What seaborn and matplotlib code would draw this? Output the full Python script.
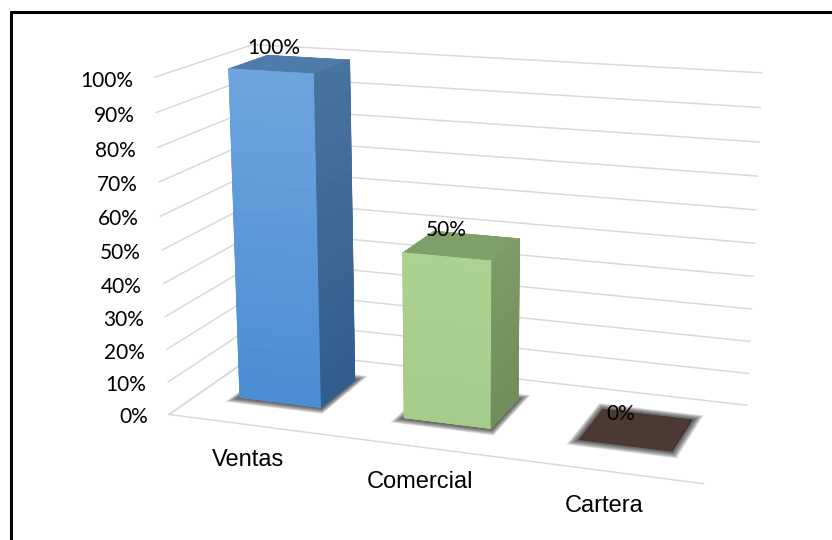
import numpy as np
import matplotlib
matplotlib.use("Agg")
import matplotlib.pyplot as plt
import seaborn as sns
from matplotlib.colors import to_rgb
from matplotlib.lines import Line2D
from mpl_toolkits.mplot3d import proj3d
from mpl_toolkits.mplot3d.art3d import Poly3DCollection

# ---- data -------------------------------------------------------------
categories = ["Ventas", "Comercial", "Cartera"]
values = [1.00, 0.50, 0.00]
value_labels = ["100%", "50%", "0%"]
tick_values = [0.0, 0.1, 0.2, 0.3, 0.4, 0.5, 0.6, 0.7, 0.8, 0.9, 1.0]
tick_labels = ["0%", "10%", "20%", "30%", "40%", "50%", "60%", "70%", "80%", "90%", "100%"]

# face colours per bar (gradients run from the top of a face to its bottom)
front_top = ["#6ea5de", "#acd291", "#4b3a33"]
front_bottom = ["#4a8cd3", "#a5cc8a", "#4b3a33"]
side_top = ["#4a739f", "#7c9b66", "#3a2c26"]
side_bottom = ["#2f5d8d", "#6f8e5a", "#3a2c26"]
top_colors = ["#4f7bab", "#7e9f68", "#4b3a33"]

# ---- style ------------------------------------------------------------
sns.set_theme(style="white")
plt.rcParams["font.family"] = ["Lato", "DejaVu Sans"]

W, H = 832, 540
fig = plt.figure(figsize=(W / 100, H / 100), dpi=100)
fig.patch.set_facecolor("white")

# outer frame: left and top edges
frame_kw = dict(transform=fig.transFigure, color="black", linewidth=2.2)
fig.add_artist(Line2D([10.5 / W, 10.5 / W], [1 - 11.5 / H, -0.05], **frame_kw))
fig.add_artist(Line2D([10.5 / W, 1.05], [1 - 11.5 / H, 1 - 11.5 / H], **frame_kw))

ax = fig.add_axes([0.1414, -0.0918, 0.8025, 1.2364], projection="3d")
ax.computed_zorder = False
n = len(categories)
ax.set_xlim(0, n)
ax.set_ylim(0, 1)
ax.set_zlim(0, 1)
ax.set_box_aspect((1, 0.4007, 0.6284))
ax.view_init(elev=15.13, azim=-70.754, roll=0)
ax.set_proj_type("persp", focal_length=0.5005)

# walls: white panes with light horizontal gridlines
ax.set_xticks([])
ax.set_yticks([])
ax.set_zticks(tick_values)
ax.zaxis.set_ticklabels([])
for a in (ax.xaxis, ax.yaxis, ax.zaxis):
    a.set_pane_color((1, 1, 1, 1))
    a.pane.set_edgecolor((1, 1, 1, 0))
    a.line.set_color((1, 1, 1, 0))
    a._axinfo["grid"].update(color="#d9d9d9", linewidth=1.1)
    a._axinfo["tick"].update(inward_factor=0, outward_factor=0)
ax.grid(True)

grid_kw = dict(color="#d9d9d9", linewidth=1.1, zorder=0.5)
ax.plot([0, n], [0, 0], [0, 0], **grid_kw)   # floor front edge
ax.plot([0, 0], [0, 1], [0, 0], **grid_kw)   # floor left edge


def blend(c0, c1, t):
    a, b = np.array(to_rgb(c0)), np.array(to_rgb(c1))
    return tuple(a + (b - a) * t)


# bars
bar_w, bar_y0, bar_d = 0.504, 0.317, 0.406
bar_y1 = bar_y0 + bar_d
n_strips = 24
for i, v in enumerate(values):
    x0, x1 = i + 0.5 - bar_w / 2, i + 0.5 + bar_w / 2
    # soft contact shadow on the floor
    for e in np.linspace(0.045, 0.004, 9):
        ey = 1.7 * e
        poly = [(x0 - e, bar_y0 - ey, 0), (x1 + e, bar_y0 - ey, 0),
                (x1 + e, bar_y1 + ey, 0), (x0 - e, bar_y1 + ey, 0)]
        ax.add_collection3d(Poly3DCollection([poly], facecolor=(0.12, 0.12, 0.12, 0.13),
                                             edgecolor="none", zorder=1))
    # bottom, top, front, back, left, right
    cols = [top_colors[i], top_colors[i], front_top[i], side_top[i],
            front_top[i], side_top[i]]
    ax.bar3d(x0, bar_y0, 0, bar_w, bar_d, v, color=cols, edgecolor=cols,
             linewidth=0.4, shade=False, zorder=2 + i)
    if v > 0:
        # shaded front and right faces
        zs = np.linspace(0, v, n_strips + 1)
        fronts, sides, fc, sc = [], [], [], []
        for k in range(n_strips):
            za, zb = zs[k], zs[k + 1]
            t = 1 - (k + 0.5) / n_strips
            fronts.append([(x0, bar_y0, za), (x1, bar_y0, za), (x1, bar_y0, zb), (x0, bar_y0, zb)])
            sides.append([(x1, bar_y0, za), (x1, bar_y1, za), (x1, bar_y1, zb), (x1, bar_y0, zb)])
            fc.append(blend(front_top[i], front_bottom[i], t))
            sc.append(blend(side_top[i], side_bottom[i], t))
        ax.add_collection3d(Poly3DCollection(fronts, facecolors=fc, edgecolors=fc,
                                             linewidth=0.6, zorder=2.5 + i))
        ax.add_collection3d(Poly3DCollection(sides, facecolors=sc, edgecolors=sc,
                                             linewidth=0.6, zorder=2.5 + i))

# text is placed at the projected position of 3D anchor points
M = ax.get_proj()


def anchor(x, y, z):
    u, v, _ = proj3d.proj_transform(x, y, z, M)
    return float(u), float(v)


def label(s, xyz, dx, dy, **kw):
    ax.annotate(s, xy=anchor(*xyz), xycoords="data", xytext=(dx, dy),
                textcoords="offset pixels", annotation_clip=False,
                va="center_baseline", color="black", zorder=10, **kw)


# value labels above each bar
for i, (v, lab) in enumerate(zip(values, value_labels)):
    label(lab, (i + 0.5, bar_y0 + bar_d / 2, v), -16, 18, ha="center", fontsize=15)

# category labels under the floor
for i, cat in enumerate(categories):
    label(cat, (i + 0.5, 0, 0), -3, -32, ha="center", fontsize=17,
          family=["Liberation Sans"])

# percentage axis labels beside the left wall
for tv, tl in zip(tick_values, tick_labels):
    label(tl, (0, 0, tv), -21, -1, ha="right", fontsize=15)

fig.savefig("out.png", dpi=100)
